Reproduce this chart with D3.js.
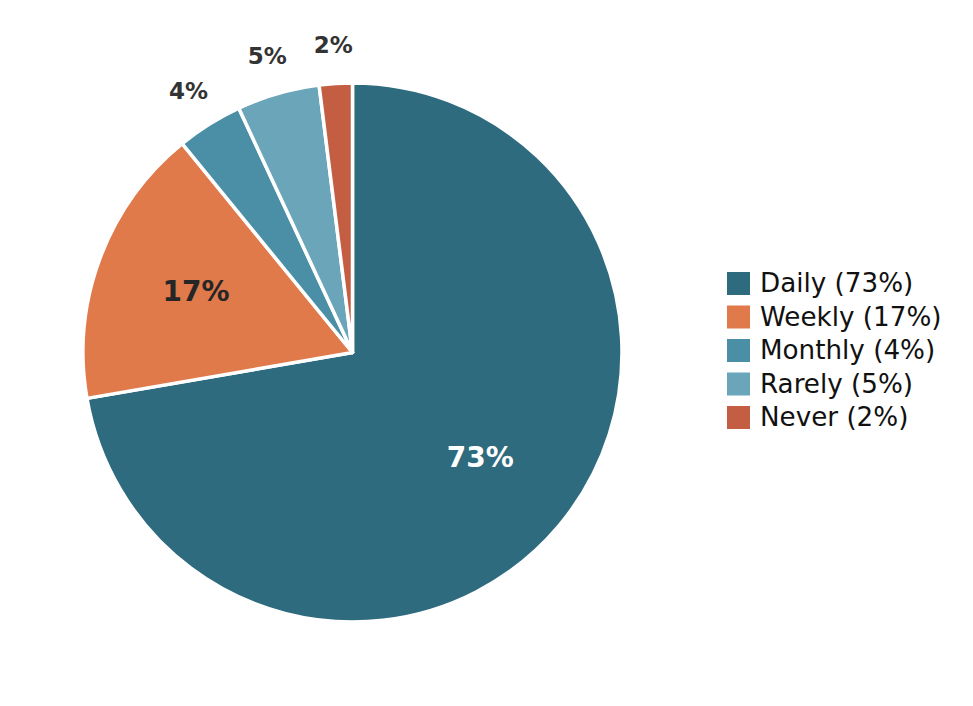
<!DOCTYPE html>
<html>
<head>
<meta charset="utf-8">
<script src="https://cdn.jsdelivr.net/npm/d3@7"></script>
<style>
  html, body { margin: 0; padding: 0; background: #fff; }
  svg { display: block; font-family: "DejaVu Sans", sans-serif; }
</style>
</head>
<body>
<svg id="chart" width="973" height="706"></svg>
<script>
const categories = ["Daily", "Weekly", "Monthly", "Rarely", "Never"];
const values = [73, 17, 4, 5, 2];
const colors = ["#2e6b7e", "#e07a4b", "#4a8fa6", "#6aa5b9", "#c45e43"];
const labelInside = [true, true, false, false, false];
const labelColors = ["#ffffff", "#262626", "#333333", "#333333", "#333333"];

const svg = d3.select("#chart");
const cx = 352.5, cy = 352.5, r = 269.5;

const data = categories.map((c, i) => ({ name: c, value: values[i], color: colors[i], inside: labelInside[i], lc: labelColors[i] }));

const pie = d3.pie().sort(null).value(d => d.value).startAngle(0).endAngle(2 * Math.PI);
const arcs = pie(data);
const arc = d3.arc().innerRadius(0).outerRadius(r);
const inArc = d3.arc().innerRadius(r * 0.62).outerRadius(r * 0.62);
const outArc = d3.arc().innerRadius(r * 1.145).outerRadius(r * 1.145);

const g = svg.append("g").attr("transform", `translate(${cx},${cy})`);

g.selectAll("path.slice").data(arcs).join("path")
  .attr("class", "slice")
  .attr("d", arc)
  .attr("fill", d => d.data.color)
  .attr("stroke", "#ffffff")
  .attr("stroke-width", 3.5)
  .attr("stroke-linejoin", "round");

g.selectAll("text.lbl").data(arcs).join("text")
  .attr("class", "lbl")
  .attr("transform", d => {
    const p = d.data.inside ? inArc.centroid(d) : outArc.centroid(d);
    return `translate(${p[0]},${p[1] + (d.data.inside ? -2.5 : 0)})`;
  })
  .attr("text-anchor", "middle")
  .attr("dominant-baseline", "central")
  .attr("font-weight", "bold")
  .attr("font-size", d => d.data.inside ? 28 : 23)
  .attr("fill", d => d.data.lc)
  .text(d => d.data.value + "%");

// Legend
const legend = svg.append("g").attr("transform", "translate(727,283.5)");
const rowH = 33.5;
const rows = legend.selectAll("g.row").data(data).join("g")
  .attr("class", "row")
  .attr("transform", (d, i) => `translate(0,${i * rowH})`);
rows.append("rect")
  .attr("x", 0).attr("y", -11.5)
  .attr("width", 23).attr("height", 23)
  .attr("fill", d => d.color);
rows.append("text")
  .attr("x", 33).attr("y", 8.5)
  .attr("font-size", 26.2)
  .attr("fill", "#111111")
  .text(d => `${d.name} (${d.value}%)`);
</script>
</body>
</html>
